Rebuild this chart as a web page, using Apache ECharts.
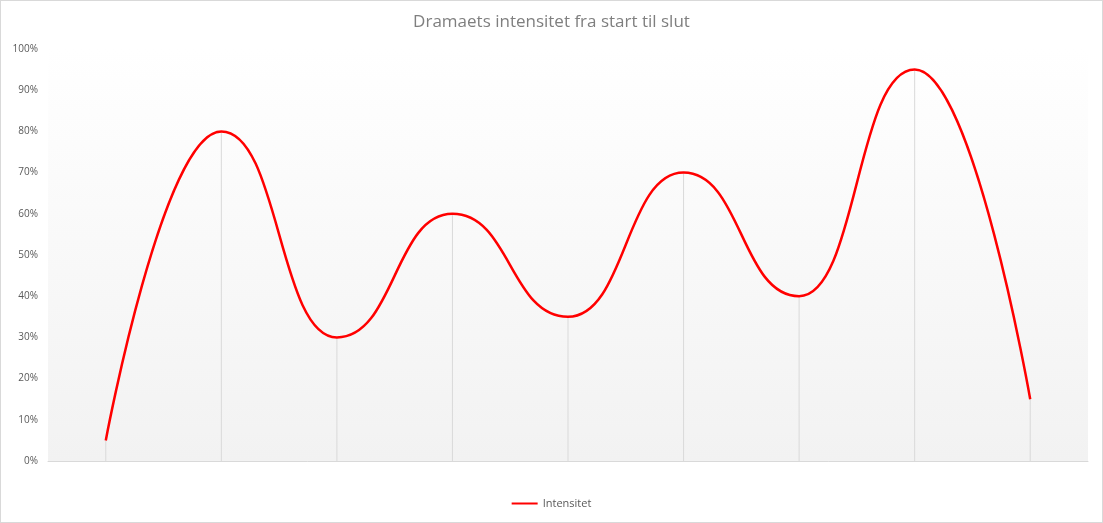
<!DOCTYPE html>
<html>
<head>
<meta charset="utf-8">
<script src="https://cdn.jsdelivr.net/npm/echarts@6/dist/echarts.min.js"></script>
<style>
  html, body { margin: 0; padding: 0; background: #fff; }
  #main { width: 1101px; height: 521px; border: 1px solid #d9d9d9; }
</style>
</head>
<body>
<div id="main"></div>
<script>
// punkter i dramaet, fra start til slut
const steps = ['1', '2', '3', '4', '5', '6', '7', '8', '9'];
const intensity = [5, 80, 30, 60, 35, 70, 40, 95, 15];
const yTicks = [0, 10, 20, 30, 40, 50, 60, 70, 80, 90, 100];

const chart = echarts.init(document.getElementById('main'));

chart.setOption({
  animation: false,
  title: {
    text: 'Dramaets intensitet fra start til slut',
    left: 'center',
    top: 8,
    textStyle: {
      fontFamily: 'Open Sans',
      fontSize: 17,
      fontWeight: 'normal',
      color: '#7f7f7f'
    }
  },
  legend: {
    data: ['Intensitet'],
    bottom: 8,
    left: 'center',
    itemWidth: 26,
    itemHeight: 2,
    itemGap: 4,
    icon: 'rect',
    textStyle: { fontFamily: 'Open Sans', fontSize: 11, color: '#595959' }
  },
  grid: {
    left: 47,
    right: 14,
    top: 48,
    bottom: 61,
    show: true,
    borderWidth: 0,
    backgroundColor: new echarts.graphic.LinearGradient(0, 0, 0, 1, [
      { offset: 0, color: '#ffffff' },
      { offset: 1, color: '#f2f2f2' }
    ])
  },
  xAxis: {
    type: 'category',
    data: steps,
    boundaryGap: true,
    axisLine: { lineStyle: { color: '#d9d9d9', width: 1 } },
    axisTick: { show: false },
    axisLabel: { show: false }
  },
  yAxis: {
    type: 'value',
    min: yTicks[0],
    max: yTicks[yTicks.length - 1],
    interval: 10,
    axisLine: { show: false },
    axisTick: { show: false },
    splitLine: { show: false },
    axisLabel: {
      formatter: '{value}%',
      fontFamily: 'Open Sans',
      fontSize: 10,
      color: '#595959',
      margin: 10
    }
  },
  series: [
    {
      name: 'drop',
      type: 'bar',
      data: intensity,
      barWidth: 1,
      silent: true,
      itemStyle: { color: '#d9d9d9' },
      z: 1
    },
    {
      name: 'Intensitet',
      type: 'line',
      data: intensity,
      smooth: 0.5,
      smoothMonotone: 'x',
      symbol: 'none',
      lineStyle: { color: '#ff0000', width: 2.5 },
      itemStyle: { color: '#ff0000' },
      z: 3
    }
  ]
});
</script>
</body>
</html>
